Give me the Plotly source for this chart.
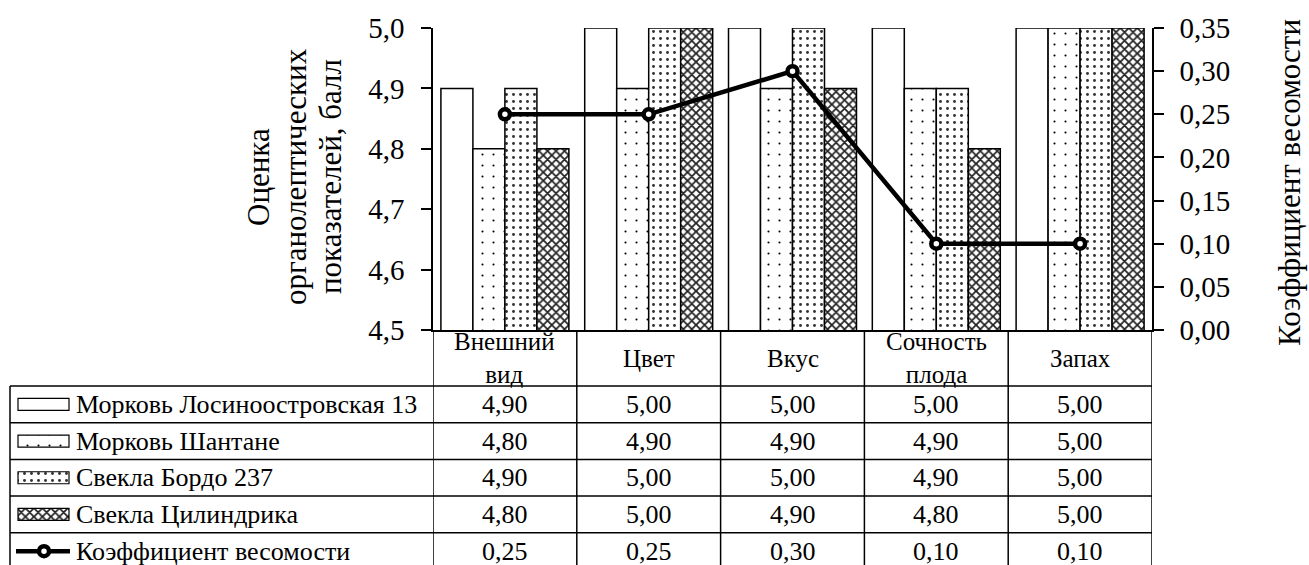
import plotly.graph_objects as go

# ---------------- data ----------------
categories = ["Внешний вид", "Цвет", "Вкус", "Сочность плода", "Запах"]
header_labels = ["Внешний<br>вид", "Цвет", "Вкус", "Сочность<br>плода", "Запах"]

series_names = [
    "Морковь Лосиноостровская 13",
    "Морковь Шантане",
    "Свекла Бордо 237",
    "Свекла Цилиндрика",
]
losinoostrovskaya = [4.90, 5.00, 5.00, 5.00, 5.00]
shantane = [4.80, 4.90, 4.90, 4.90, 5.00]
bordo = [4.90, 5.00, 5.00, 4.90, 5.00]
cilindrika = [4.80, 5.00, 4.90, 4.80, 5.00]

weight_name = "Коэффициент весомости"
weight = [0.25, 0.25, 0.30, 0.10, 0.10]

score_ticks = [4.5, 4.6, 4.7, 4.8, 4.9, 5.0]
weight_ticks = [0.00, 0.05, 0.10, 0.15, 0.20, 0.25, 0.30, 0.35]

left_title_lines = ["Оценка", "органолептических", "показателей, балл"]
right_title = "Коэффициент весомости"

# ---------------- geometry (pixels) ----------------
W, H = 1309, 565
PX0, PX1 = 433, 1152          # plot area left / right
PY_TOP, PY_BOT = 28, 330      # plot area top / bottom
HEAD_BOT = 386                # bottom of the category header row
ROW_H = 36.7                  # data-table row height
N_ROWS = 5
TABLE_LEFT = 10
FONT = "Liberation Serif"


def fx(px):
    return px / W


def fy(py):
    return 1 - py / H


# bar fills
patterns = [
    None,
    dict(shape=".", fgcolor="black", bgcolor="white", size=11, solidity=0.03, fillmode="replace"),
    dict(shape=".", fgcolor="#333333", bgcolor="white", size=7, solidity=0.14, fillmode="replace"),
    dict(shape="x", fgcolor="#222222", bgcolor="white", size=6, solidity=0.5, fillmode="replace"),
]
series_values = [losinoostrovskaya, shantane, bordo, cilindrika]

fig = go.Figure()

for name, vals, pat in zip(series_names, series_values, patterns):
    marker = dict(color="white", line=dict(color="black", width=1.5))
    if pat is not None:
        marker["pattern"] = pat
    fig.add_trace(go.Bar(
        x=categories, y=vals, name=name, marker=marker,
        xaxis="x", yaxis="y", showlegend=False,
    ))

fig.add_trace(go.Scatter(
    x=categories, y=weight, name=weight_name, mode="lines+markers",
    line=dict(color="black", width=4.5),
    marker=dict(symbol="circle", size=10, color="white",
                line=dict(color="black", width=4.5)),
    xaxis="x", yaxis="y2", showlegend=False,
))

# ---------------- data table ----------------
row_centers = [HEAD_BOT + (r + 0.5) * ROW_H for r in range(N_ROWS)]
table_bottom = HEAD_BOT + N_ROWS * ROW_H
line_style = dict(color="black", width=1.5)
shapes = []

for k in range(N_ROWS + 1):
    y = fy(HEAD_BOT + k * ROW_H)
    shapes.append(dict(type="line", xref="paper", yref="paper",
                       x0=fx(TABLE_LEFT), x1=fx(PX1), y0=y, y1=y, line=line_style))
shapes.append(dict(type="line", xref="paper", yref="paper",
                   x0=fx(TABLE_LEFT), x1=fx(TABLE_LEFT),
                   y0=fy(HEAD_BOT), y1=fy(table_bottom), line=line_style))
for i in range(len(categories) + 1):
    shapes.append(dict(type="line", xref="x", yref="paper",
                       x0=i - 0.5, x1=i - 0.5, y0=fy(PY_BOT), y1=fy(table_bottom),
                       line=line_style))


def text_at(x, xref, y, text, size, xanchor="center", angle=0):
    return dict(x=x, xref=xref, y=y, yref="paper", text=text, showarrow=False,
                xanchor=xanchor, yanchor="middle", textangle=angle,
                font=dict(family=FONT, size=size, color="black"))


annotations = []
for i, lab in enumerate(header_labels):
    annotations.append(text_at(i, "x", fy((PY_BOT + HEAD_BOT) / 2), lab, 25))

table_rows = series_values + [weight]
table_names = series_names + [weight_name]
for r, (name, vals) in enumerate(zip(table_names, table_rows)):
    yc = fy(row_centers[r])
    annotations.append(text_at(fx(74), "paper", yc, name, 26, xanchor="left"))
    for i, v in enumerate(vals):
        annotations.append(text_at(i, "x", yc, f"{v:.2f}".replace(".", ","), 26))

# legend keys inside the table (pixel-coordinate subplot)
for r, (name, pat) in enumerate(zip(series_names, patterns)):
    marker = dict(color="white", line=dict(color="black", width=1.2))
    if pat is not None:
        marker["pattern"] = pat
    fig.add_trace(go.Bar(
        orientation="h", y=[row_centers[r]], x=[51], base=[18],
        width=[12], offset=-6, marker=marker,
        xaxis="x3", yaxis="y3", showlegend=False, hoverinfo="skip",
    ))
yk = row_centers[4]
fig.add_trace(go.Scatter(
    x=[16, 70], y=[yk, yk], mode="lines", line=dict(color="black", width=4.5),
    xaxis="x3", yaxis="y3", showlegend=False, hoverinfo="skip",
))
fig.add_trace(go.Scatter(
    x=[44], y=[yk], mode="markers",
    marker=dict(symbol="circle", size=10, color="white",
                line=dict(color="black", width=4.5)),
    xaxis="x3", yaxis="y3", showlegend=False, hoverinfo="skip",
))

# axis titles
for x_c, txt in zip([259, 296, 331], left_title_lines):
    annotations.append(text_at(fx(x_c), "paper", fy(177), txt, 31, angle=-90))
annotations.append(text_at(fx(1290), "paper", fy(183), right_title, 31, angle=-90))

axis_common = dict(showgrid=False, zeroline=False, showline=True,
                   linecolor="black", linewidth=1.5, automargin=False,
                   fixedrange=True)

fig.update_layout(
    width=W, height=H,
    margin=dict(l=0, r=0, t=0, b=0, pad=0),
    paper_bgcolor="white", plot_bgcolor="white",
    separators=", ",
    barmode="group", bargap=0.11, bargroupgap=0,
    font=dict(family=FONT, color="black"),
    xaxis=dict(domain=[fx(PX0), fx(PX1)], range=[-0.5, 4.5], type="category",
               showticklabels=False, ticks="", anchor="y", **axis_common),
    yaxis=dict(domain=[fy(PY_BOT), fy(PY_TOP)], range=[4.5, 5.0],
               tickvals=score_ticks, tickformat=".1f", ticks="outside",
               ticklen=10, tickwidth=1.5, tickcolor="black", ticklabelstandoff=11,
               tickfont=dict(family=FONT, size=29, color="black"),
               anchor="x", **axis_common),
    yaxis2=dict(domain=[fy(PY_BOT), fy(PY_TOP)], range=[0, 0.35], overlaying="y",
                side="right", anchor="x",
                tickvals=weight_ticks, tickformat=".2f", ticks="outside",
                ticklen=10, tickwidth=1.5, tickcolor="black", ticklabelstandoff=10,
                tickfont=dict(family=FONT, size=29, color="black"),
                **axis_common),
    xaxis3=dict(domain=[0, fx(100)], range=[0, 100], visible=False,
                anchor="y3", fixedrange=True),
    yaxis3=dict(domain=[0, fy(PY_BOT)], range=[565, 330], visible=False,
                anchor="x3", fixedrange=True),
    shapes=shapes,
    annotations=annotations,
)

fig.write_html("out.html")
